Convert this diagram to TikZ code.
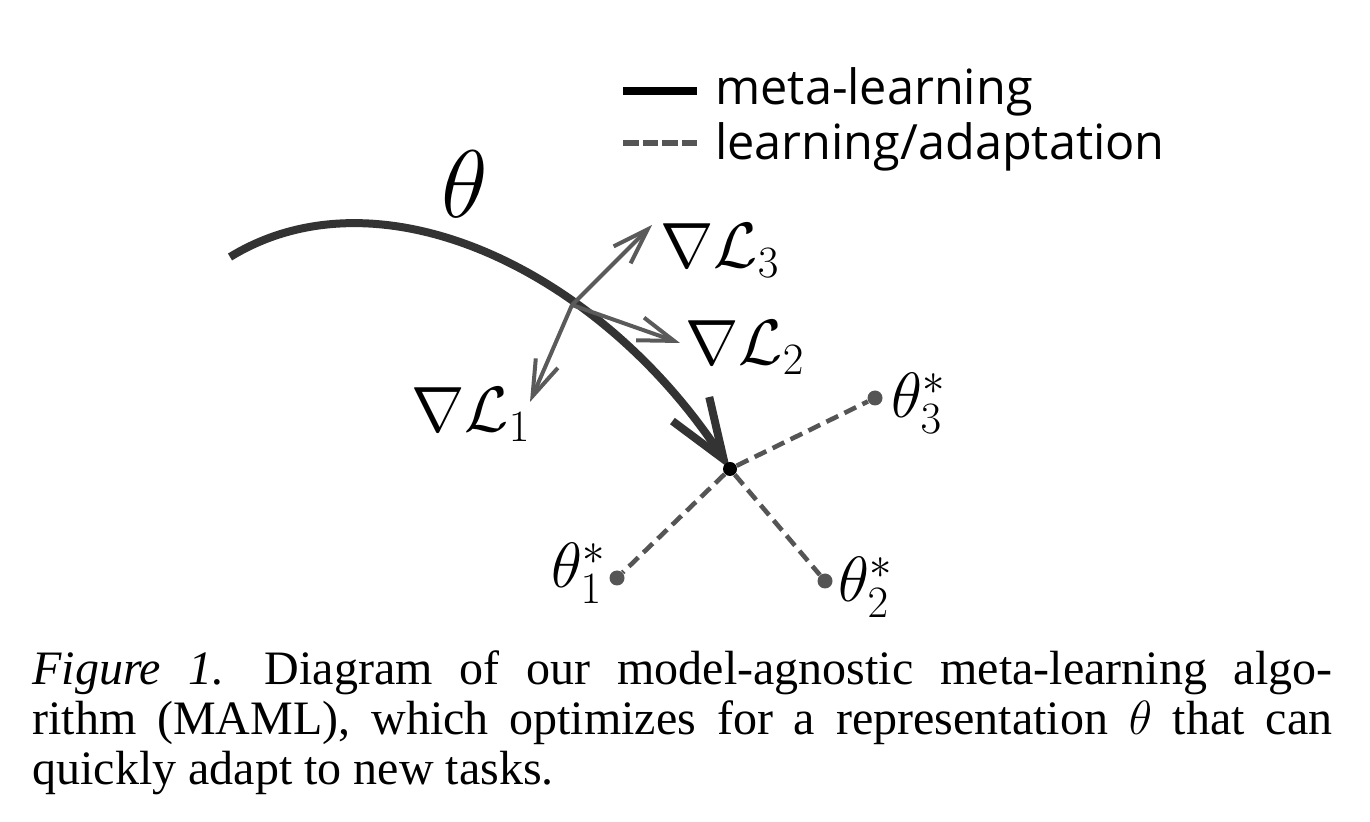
\RequirePackage{fix-cm}
\documentclass[tikz,border=0pt]{standalone}
\usepackage{fontspec}
\usepackage{amsmath}
\usetikzlibrary{backgrounds}
\usetikzlibrary{arrows.meta}
\newfontfamily\legendfont{Open Sans}
\newfontfamily\captionfont{Liberation Serif}
\definecolor{metacol}{HTML}{333333}
\definecolor{gradcol}{HTML}{5A5A5A}
\definecolor{adaptcol}{HTML}{555555}
\tikzstyle{meta}=[draw=metacol, line width=4pt, -{Straight Barb[length=30pt, width=22pt, sharp]}]
\tikzstyle{grad}=[draw=gradcol, line width=2pt, -{Straight Barb[length=18pt, width=12pt, sharp]}]
\tikzstyle{adapt}=[draw=adaptcol, line width=2.3pt, dash pattern=on 6.5pt off 3.5pt]
\tikzstyle{lbl}=[inner sep=0pt, anchor=base west, font=\fontsize{32}{38}\selectfont]
\tikzstyle{opt}=[circle, inner sep=0pt, fill=black, minimum size=7pt]
\tikzstyle{task}=[circle, inner sep=0pt, fill=adaptcol, minimum size=7.5pt]
\tikzstyle{leg}=[inner sep=0pt, anchor=base west, font=\legendfont\fontsize{24.3}{28}\selectfont]
\tikzstyle{capt}=[inner sep=0pt, anchor=north west, text width=650pt, align=justify, font=\captionfont\fontsize{24}{25}\selectfont]

\begin{document}
\begin{tikzpicture}[x=0.5pt, y=-0.5pt]
	\useasboundingbox (0,0) rectangle (1370,822);
	
	%The legend
	\coordinate (ml-a) at (623,91);
	\coordinate (ml-b) at (697,91);
	\coordinate (la-a) at (623,143);
	\coordinate (la-b) at (697,143);
	\node[leg] (ml) at (715,105) {meta-learning};
	\node[leg] (la) at (715,160) {learning/adaptation};
	\draw[draw=black, line width=4pt] (ml-a) -- (ml-b);
	\draw[draw=adaptcol, line width=3pt, dash pattern=on 7.75pt off 2pt] (la-a) -- (la-b);
	
	%The meta-learning path
	\coordinate (start) at (230,257);
	\coordinate (o) at (572,305);
	\node[lbl, font=\fontsize{48}{56}\selectfont] (theta) at (441,218) {$\theta$};
	
	%The task gradients
	\coordinate (g1) at (530,402);
	\coordinate (g2) at (680,343);
	\coordinate (g3) at (652,225);
	\node[lbl] (l1) at (411,432) {$\nabla\mathcal{L}_1$};
	\node[lbl] (l2) at (685,365) {$\nabla\mathcal{L}_2$};
	\node[lbl] (l3) at (660,268) {$\nabla\mathcal{L}_3$};
	
	%The adapted parameters
	\node[opt] (c) at (730,469) {};
	\node[task] (t1) at (617,578) {};
	\node[task] (t2) at (825,581) {};
	\node[task] (t3) at (875,398) {};
	\node[lbl] (th1) at (551,588) {$\theta_1^*$};
	\node[lbl] (th2) at (838,602) {$\theta_2^*$};
	\node[lbl] (th3) at (891,418) {$\theta_3^*$};
	
	\begin{scope}[on background layer]
	\draw[meta] (start) .. controls (380,165) and (600,270) .. (c.center);
	\draw[grad] (o) -- (g1);
	\draw[grad] (o) -- (g2);
	\draw[grad] (o) -- (g3);
	\draw[adapt] (c) -- (t1);
	\draw[adapt] (c) -- (t2);
	\draw[adapt] (c) -- (t3);
	\end{scope}
	
	%The caption
	\node[capt] (cap) at (32,650) {\textit{Figure 1.}\hspace{0.85em}Diagram of our model-agnostic meta-learning algo-\linebreak rithm (MAML), which optimizes for a representation $\theta$ that can\linebreak quickly adapt to new tasks.};
\end{tikzpicture}
\end{document}
